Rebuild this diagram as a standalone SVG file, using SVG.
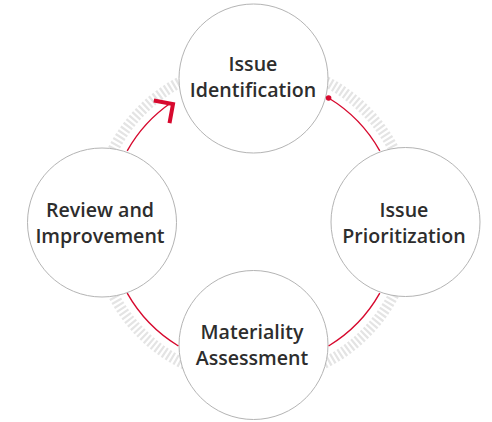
<svg xmlns="http://www.w3.org/2000/svg" width="492" height="422" viewBox="0 0 492 422">
<style>
.node circle{fill:#fff;stroke:#b4b4b4;stroke-width:1}
.node text{font-family:"Open Sans","Liberation Sans",sans-serif;font-weight:600;font-size:19.6px;fill:#2d2d2d;text-anchor:middle}
.arc{fill:none;stroke:#d7092e;stroke-width:1.4}
</style>
<rect width="492" height="422" fill="#fff"/>
<g id="ticks">
<circle cx="253.5" cy="222" r="158" fill="none" stroke="#e4e4e4" stroke-width="11" pathLength="224" stroke-dasharray="0.5 0.5"/>
</g>
<g id="node-identification" class="node">
<circle cx="253.5" cy="78.5" r="74.5"/>
<text x="253" y="71">Issue</text>
<text x="253" y="97">Identification</text>
</g>
<g id="node-prioritization" class="node">
<circle cx="405.5" cy="222" r="74.5"/>
<text x="404" y="217">Issue</text>
<text x="404" y="243">Prioritization</text>
</g>
<g id="node-assessment" class="node">
<circle cx="253.5" cy="345" r="74.5"/>
<text x="252" y="339">Materiality</text>
<text x="252" y="365">Assessment</text>
</g>
<g id="node-review" class="node">
<circle cx="102" cy="222.5" r="74.5"/>
<text x="100" y="217">Review and</text>
<text x="100" y="243">Improvement</text>
</g>
<g id="connectors">
<path class="arc" d="M328.6 98 A145 145 0 0 1 379.8 150.8"/>
<circle cx="328.6" cy="98" r="2.8" fill="#d7092e"/>
<path class="arc" d="M379.8 293.2 A145 145 0 0 1 328.6 346"/>
<path class="arc" d="M178.4 346 A145 145 0 0 1 127.2 293.2"/>
<path class="arc" d="M127.2 150.8 A145 145 0 0 1 171.4 102.5"/>
<path d="M153.8 100.5 L173 104 L169.5 123.2" fill="none" stroke="#d7092e" stroke-width="4" stroke-linejoin="miter"/>
</g>
</svg>
